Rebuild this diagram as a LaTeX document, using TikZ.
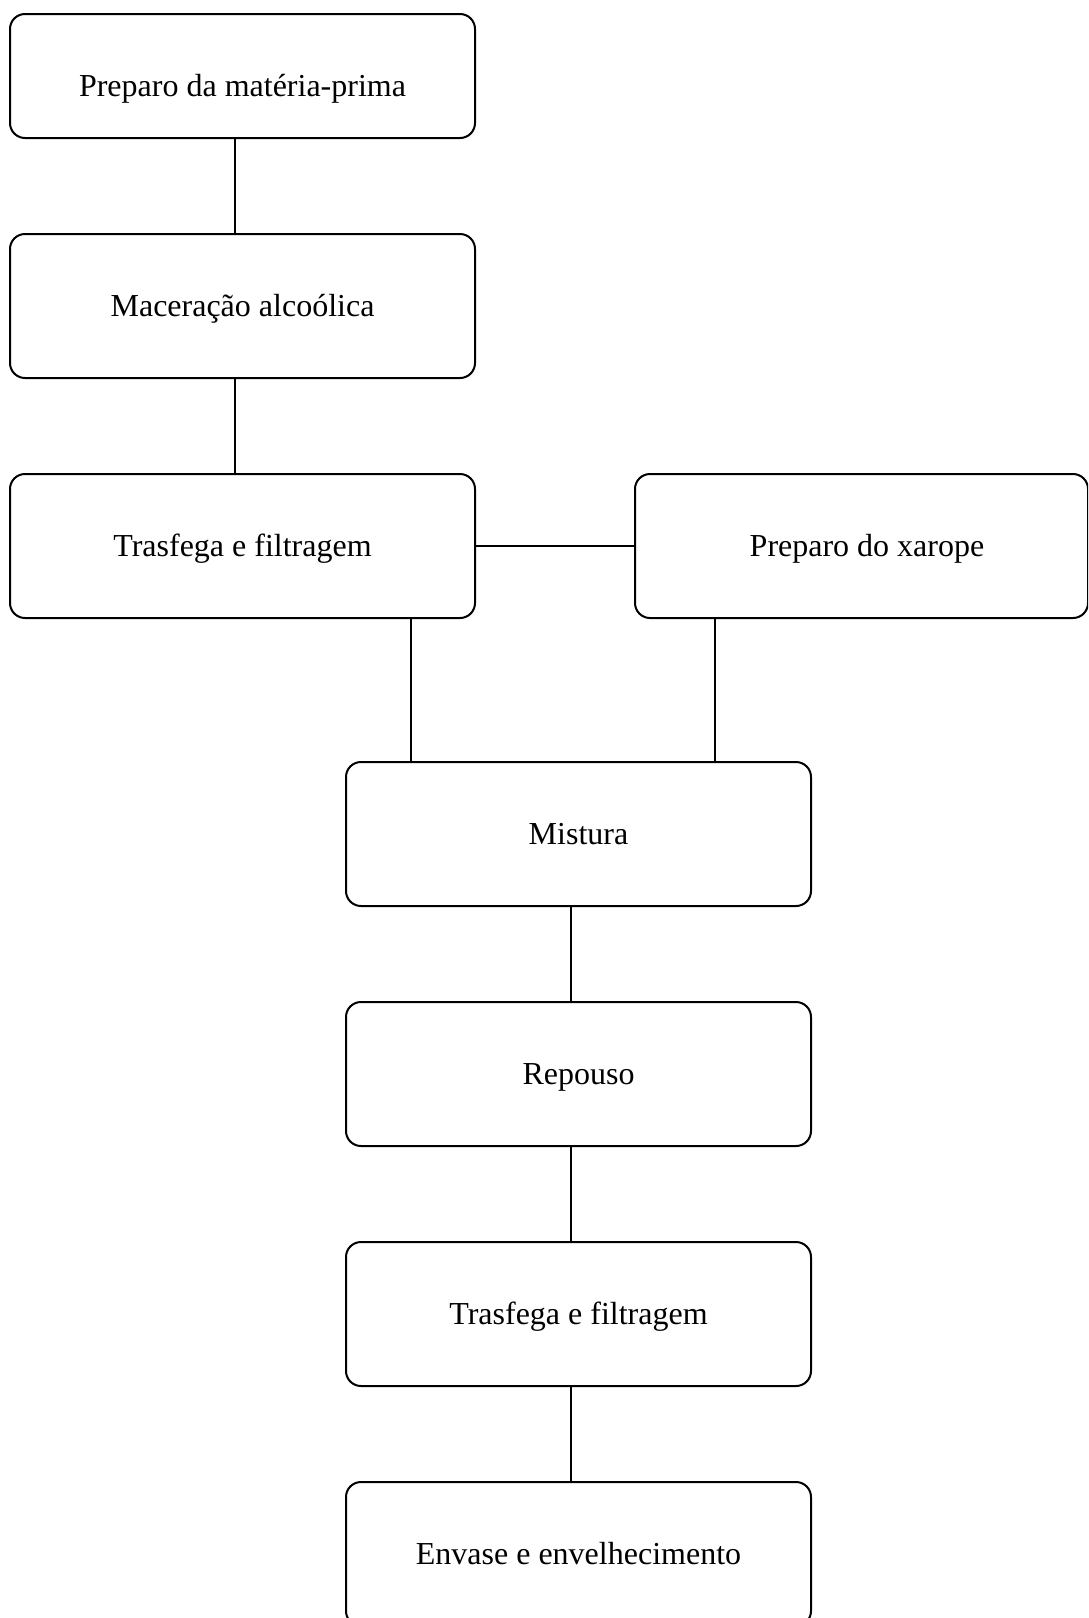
\documentclass[tikz,border=0pt]{standalone}
\usepackage{fontspec}
\setmainfont{Liberation Serif}
\usetikzlibrary{calc}
\begin{document}
\begin{tikzpicture}[x=1pt,y=-1pt,
  stepbox/.style={draw=black, line width=2pt, rounded corners=15pt, rectangle,
    minimum width=465pt, minimum height=144pt, inner sep=0pt,
    text height=21.2pt, text depth=0pt,
    font=\fontsize{32}{39}\selectfont},
  link/.style={draw=black, line width=2pt}]
\clip (0,0) rectangle (1088,1618);
\fill[white] (0,0) rectangle (1088,1618);
\node[stepbox, minimum height=124pt, text height=41.2pt] (b1) at (242.5,76) {Preparo da matéria-prima};
\node[stepbox] (b2) at (242.5,306) {Maceração alcoólica};
\node[stepbox] (b3) at (242.5,546) {Trasfega e filtragem};
\node[stepbox, minimum width=453pt] (bx) at (861.5,546) {\hspace{11pt}Preparo do xarope};
\node[stepbox] (m) at (578.5,834) {Mistura};
\node[stepbox] (r) at (578.5,1074) {Repouso};
\node[stepbox] (t2) at (578.5,1314) {Trasfega e filtragem};
\node[stepbox] (e) at (578.5,1554) {Envase e envelhecimento};
\draw[link] ($(b1.south)+(-7.5,0)$) -- ($(b2.north)+(-7.5,0)$);
\draw[link] ($(b2.south)+(-7.5,0)$) -- ($(b3.north)+(-7.5,0)$);
\draw[link] (b3.east) -- (bx.west);
\draw[link] ($(b3.south)+(168,0)$) -- ($(m.north)+(-168,0)$);
\draw[link] ($(bx.south)+(-147,0)$) -- ($(m.north)+(136,0)$);
\draw[link] ($(m.south)+(-7.5,0)$) -- ($(r.north)+(-7.5,0)$);
\draw[link] ($(r.south)+(-7.5,0)$) -- ($(t2.north)+(-7.5,0)$);
\draw[link] ($(t2.south)+(-7.5,0)$) -- ($(e.north)+(-7.5,0)$);
\end{tikzpicture}
\end{document}
